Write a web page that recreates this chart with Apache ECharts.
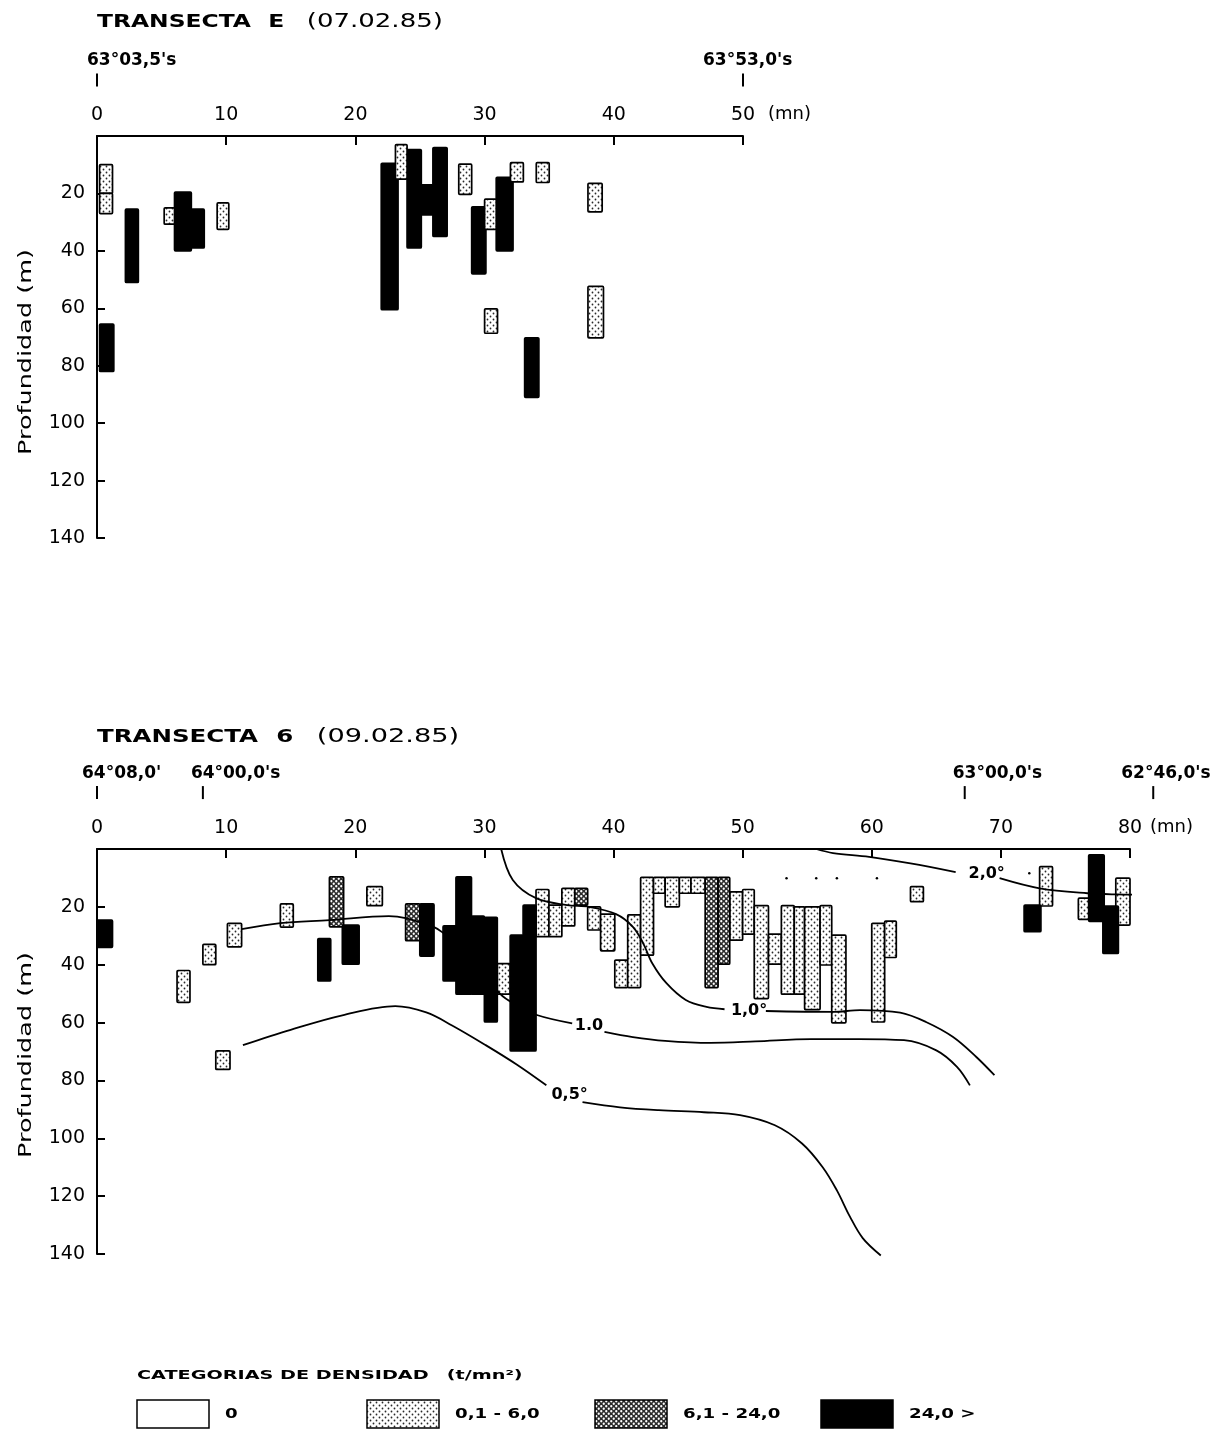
<!DOCTYPE html>
<html><head><meta charset="utf-8">
<script src="https://cdn.jsdelivr.net/npm/echarts/dist/echarts.min.js"></script>
<style>html,body{margin:0;padding:0;background:#fff}#c{width:1231px;height:1431px}</style>
</head><body><div id="c"></div>
<script>
// ---------- DATA ----------
// Depth axis ticks and distance axis ticks (mn)
const depthTicks = [0, 20, 40, 60, 80, 100, 120, 140];
const distE_max = 50, dist6_max = 80;

// Transecta E (07.02.85): rectangles [fromMn, toMn, topDepth, bottomDepth]
const transE_black = [
  [0.2, 1.3, 65.5, 82], [2.2, 3.2, 25.5, 51], [6.0, 7.3, 19.5, 40], [7.3, 8.3, 25.5, 39],
  [22.0, 23.3, 9.5, 60.5], [24.0, 25.1, 4.7, 39], [25.1, 26.0, 17, 27.5], [26.0, 27.1, 4, 35],
  [29.0, 30.1, 24.7, 48], [30.9, 32.2, 14.4, 40], [33.1, 34.2, 70.3, 91]
];
const transE_light = [
  [0.2, 1.2, 10, 20], [0.2, 1.2, 20, 27], [5.2, 6.0, 25, 30.7], [9.3, 10.2, 23.3, 32.5],
  [23.1, 24.0, 3, 15], [28.0, 29.0, 9.8, 20.3], [30.0, 30.9, 22, 32.5], [30.0, 31.0, 60.2, 68.7],
  [32.0, 33.0, 9.3, 16], [34.0, 35.0, 9.3, 16.2], [38.0, 39.1, 16.5, 26.4], [38.0, 39.2, 52.4, 70.3]
];
const latE_pos = [0, 50];
const latE_text = ["63°03,5's", "63°53,0's"];

// Transecta 6 (09.02.85)
const trans6_black = [
  [0, 1.2, 24.6, 34], [17.1, 18.1, 31, 45.6], [19.0, 20.3, 26.3, 39.8], [25.0, 26.1, 19, 37],
  [26.8, 27.9, 26.6, 45.6], [27.8, 29.0, 9.6, 50.2], [29.0, 30.0, 23.2, 50.2], [30.0, 31.0, 23.6, 59.8],
  [32.0, 33.0, 29.8, 69.8], [33.0, 34.0, 19.4, 69.8], [71.8, 73.1, 19.4, 28.6], [76.8, 78.0, 2, 25],
  [77.9, 79.1, 19.7, 36.1]
];
const trans6_dense = [
  [18.0, 19.1, 9.6, 26.9], [23.9, 25.0, 19, 31.7], [37.0, 38.0, 13.6, 19.4],
  [47.1, 48.1, 9.8, 47.9], [48.1, 49.0, 9.8, 39.8]
];
const trans6_light = [
  [6.2, 7.2, 42, 53], [8.2, 9.2, 33, 40], [10.1, 11.2, 25.7, 33.8], [14.2, 15.2, 19, 27],
  [20.9, 22.1, 13, 19.6], [9.2, 10.3, 69.8, 76.2], [31.0, 32.0, 39.6, 50.2], [34.0, 35.0, 14, 30.3],
  [35.0, 36.0, 19.4, 30.3], [36.0, 37.0, 13.6, 26.6], [38.0, 39.0, 20, 28], [39.0, 40.1, 22.5, 35.2],
  [40.1, 41.1, 38.4, 47.9], [41.1, 42.1, 22.8, 47.9], [42.1, 43.1, 9.8, 36.7], [43.1, 44.0, 9.8, 15.3],
  [44.0, 45.1, 9.8, 20], [45.1, 46.0, 9.8, 15.3], [46.0, 47.1, 9.8, 15.3], [49.0, 50.0, 14.8, 31.5],
  [50.0, 50.9, 14, 29.4], [50.9, 52.0, 19.6, 51.7], [52.0, 53.0, 29.4, 39.8], [53.0, 54.0, 19.6, 50.2],
  [54.0, 54.8, 20, 50.2], [54.8, 56.0, 20, 55.5], [56.0, 56.9, 19.6, 40.1], [56.9, 58.0, 29.8, 60.1],
  [60.0, 61.0, 25.7, 59.8], [61.0, 61.9, 24.9, 37.5], [63.0, 64.0, 13, 18.2], [73.0, 74.0, 6.1, 19.7],
  [76.0, 76.9, 17, 24.3], [78.9, 80.0, 10.1, 26.3]
];
const lat6_pos = [0, 8.2, 67.2, 81.8];
const lat6_text = ["64°08,0'", "64°00,0's", "63°00,0's", "62°46,0's"];

// Isotherms [mn, depth]
const iso05_a = [[11.3,67.8],[15,62.5],[19,57.5],[23.1,54.3],[25.5,56.5],[27.5,61],[30.1,67.8],[32.5,74.5],[34.8,81.7]];
const iso05_b = [[37.6,87.5],[40.5,89.3],[43.5,90.3],[47,91],[49.8,92],[52.5,95.5],[54.6,101.8],[56.2,110],[57.3,118],[58.3,127],[59.3,134.5],[60.7,140.5]];
const iso10low_a = [[11.2,27.7],[14.2,25.6],[18,24.6],[22.6,23.2],[23.9,23.9],[26.1,27],[26.8,29],[28.5,35],[30,42],[31.2,50],[32.5,54],[34,57.3],[36.8,60.3]];
const iso10low_b = [[39.3,63.2],[41.5,65],[44,66.3],[47.5,67],[51,66.5],[55.3,65.7],[59,65.7],[62.5,66.1],[65,69.6],[66.6,75.3],[67.6,81.7]];
const iso10up_a = [[31.3,0],[32.2,10.7],[34,17],[36.4,19.4],[38.1,20],[40.2,22.5],[41.5,26.9],[42.3,32.6],[43,39.5],[44.1,46.4],[45.6,52.2],[47.2,54.6],[48.6,55.4]];
const iso10up_b = [[51.8,56],[57,56.3],[59.1,55.7],[62.2,56.6],[64.2,59.8],[66.3,65],[68.1,71.9],[69.5,78.2]];
const iso20_a = [[55.7,0],[57,1.4],[59.8,2.7],[63,5],[66.5,8]];
const iso20_b = [[69.9,10.1],[73,13.6],[76.7,15.3],[79,15.7],[82,15.9]];
const isoDots = [[53.4,10.1],[55.7,10.1],[57.3,10.1],[60.4,10.1],[72.2,8.4]];
const isoLabelPos = [[38.1,61.2],[50.5,56],[36.6,85.1],[68.9,8.5]];
const isoLabelText = ['1.0', '1,0°', '0,5°', '2,0°'];

const legendText = ['0', '0,1 - 6,0', '6,1 - 24,0', '24,0 >'];

// ---------- PATTERNS ----------
function makePattern(bg, dot, size, r, pts) {
  const c = document.createElement('canvas'); c.width = c.height = size;
  const g = c.getContext('2d'); g.fillStyle = bg; g.fillRect(0, 0, size, size);
  g.fillStyle = dot;
  pts.forEach(p => { g.beginPath(); g.arc(p[0], p[1], r, 0, Math.PI * 2); g.fill(); });
  return c;
}
const lightFill = { image: makePattern('#ffffff', '#2a2a2a', 6, 0.9, [[1.5, 1.5], [4.5, 4.5]]), repeat: 'repeat' };
const denseFill = { image: makePattern('#2b2b2b', '#ffffff', 5, 1.15, [[1.25, 1.25], [3.75, 3.75]]), repeat: 'repeat' };
const FONT = '"DejaVu Sans", sans-serif';

function rectSeries(data, fill, gi, z) {
  return {
    type: 'custom', xAxisIndex: gi, yAxisIndex: gi, z: z, data: data, silent: true,
    encode: { x: [0, 1], y: [2, 3] },
    renderItem: function (p, api) {
      const a = api.coord([api.value(0), api.value(2)]);
      const b = api.coord([api.value(1), api.value(3)]);
      return {
        type: 'rect',
        shape: { x: Math.min(a[0], b[0]), y: Math.min(a[1], b[1]), width: Math.abs(b[0] - a[0]), height: Math.abs(b[1] - a[1]), r: 1 },
        style: { fill: fill, stroke: '#000', lineWidth: 1.7 }
      };
    }
  };
}
function isoLine(data) {
  return { type: 'line', xAxisIndex: 1, yAxisIndex: 1, data: data, symbol: 'none', smooth: 0.35, clip: false, silent: true, z: 3,
    lineStyle: { color: '#000', width: 1.8 } };
}
function latSeries(gi, pos, text, offsets) {
  return {
    type: 'scatter', xAxisIndex: gi, yAxisIndex: gi, clip: false, silent: true, symbol: 'rect', symbolSize: [2, 13],
    itemStyle: { color: '#000', opacity: 1 },
    data: pos.map((x, i) => ({ value: [x, -19.5], name: text[i], label: { offset: [offsets[i], 0] } })),
    label: { show: true, position: 'top', distance: 4, align: 'left', formatter: '{b}', color: '#000', fontSize: 17, fontWeight: 'bold', fontFamily: FONT }
  };
}
function xAx(gi, max) {
  return { gridIndex: gi, type: 'value', position: 'top', min: 0, max: max, interval: 10,
    axisLine: { show: true, lineStyle: { color: '#000', width: 2 } },
    axisTick: { show: true, inside: true, length: 9, lineStyle: { color: '#000', width: 2 } },
    axisLabel: { color: '#000', fontSize: 19, margin: 11, fontFamily: FONT },
    splitLine: { show: false } };
}
function yAx(gi) {
  return { gridIndex: gi, type: 'value', inverse: true, min: depthTicks[0], max: depthTicks[depthTicks.length - 1], interval: 20,
    axisLine: { show: true, lineStyle: { color: '#000', width: 2 } },
    axisTick: { show: true, inside: true, length: 8, lineStyle: { color: '#000', width: 2 } },
    axisLabel: { color: '#000', fontSize: 19, margin: 12, fontFamily: FONT, formatter: v => v === 0 ? '' : String(v) },
    splitLine: { show: false } };
}
function titleText(x, y, sx, a, b, c) {
  return { type: 'text', x: x, y: y, scaleX: sx, silent: true,
    style: { text: '{a|' + a + '} {b|' + b + '} {c|' + c + '}', verticalAlign: 'middle', textVerticalAlign: 'middle', fill: '#000',
      rich: { a: { font: 'bold 18px ' + FONT, fill: '#000' }, b: { font: 'bold 18px ' + FONT, fill: '#000', padding: [0, 10] },
        c: { font: '20px ' + FONT, fill: '#000', padding: [0, 0, 0, 4] } } } };
}
function yName(cy) {
  return { type: 'text', x: 27, y: cy, rotation: Math.PI / 2, scaleX: 1.5, silent: true,
    style: { text: 'Profundidad (m)', font: '17px ' + FONT, fill: '#000', align: 'center', textAlign: 'center', verticalAlign: 'middle', textVerticalAlign: 'middle' } };
}

const legendX = [137, 367, 595, 821];
const legendFills = ['#ffffff', lightFill, denseFill, '#000000'];
const legendGraphics = [];
legendX.forEach((x, i) => {
  legendGraphics.push({ type: 'rect', silent: true, shape: { x: x, y: 1400, width: 72, height: 28 }, style: { fill: legendFills[i], stroke: '#000', lineWidth: 1.5 } });
  legendGraphics.push({ type: 'text', silent: true, x: x + 88, y: 1414, scaleX: 1.3,
    style: { text: legendText[i], font: 'bold 14px ' + FONT, fill: '#000', verticalAlign: 'middle', textVerticalAlign: 'middle' } });
});

const option = {
  animation: false,
  backgroundColor: '#fff',
  grid: [
    { left: 97, top: 136, width: 646, height: 402 },
    { left: 97, top: 849, width: 1033, height: 405 }
  ],
  xAxis: [xAx(0, distE_max), xAx(1, dist6_max)],
  yAxis: [yAx(0), yAx(1)],
  graphic: [
    titleText(97, 22, 1.3, 'TRANSECTA', 'E', '(07.02.85)'),
    titleText(97, 737, 1.36, 'TRANSECTA', '6', '(09.02.85)'),
    yName(352), yName(1055),
    { type: 'text', x: 768, y: 114, silent: true, style: { text: '(mn)', font: '18px ' + FONT, fill: '#000', verticalAlign: 'middle', textVerticalAlign: 'middle' } },
    { type: 'text', x: 1150, y: 827, silent: true, style: { text: '(mn)', font: '18px ' + FONT, fill: '#000', verticalAlign: 'middle', textVerticalAlign: 'middle' } },
    { type: 'text', x: 137, y: 1376, scaleX: 1.6, silent: true,
      style: { text: '{a|CATEGORIAS DE DENSIDAD} {b|(t/mn²)}', verticalAlign: 'middle', textVerticalAlign: 'middle',
        rich: { a: { font: 'bold 12px ' + FONT, fill: '#000' }, b: { font: 'bold 12px ' + FONT, fill: '#000', padding: [0, 0, 0, 8] } } } }
  ].concat(legendGraphics),
  series: [
    // Transecta E
    rectSeries(transE_black, '#000', 0, 4),
    rectSeries(transE_light, lightFill, 0, 5),
    latSeries(0, latE_pos, latE_text, [-10, -40]),
    // Transecta 6
    rectSeries(trans6_light, lightFill, 1, 2),
    rectSeries(trans6_dense, denseFill, 1, 2),
    isoLine(iso05_a), isoLine(iso05_b), isoLine(iso10low_a), isoLine(iso10low_b),
    isoLine(iso10up_a), isoLine(iso10up_b), isoLine(iso20_a), isoLine(iso20_b),
    rectSeries(trans6_black, '#000', 1, 4),
    { type: 'scatter', xAxisIndex: 1, yAxisIndex: 1, silent: true, symbolSize: 2.5, itemStyle: { color: '#000', opacity: 1 }, data: isoDots, z: 3 },
    { type: 'scatter', xAxisIndex: 1, yAxisIndex: 1, silent: true, symbolSize: 0, z: 6, itemStyle: { opacity: 1 },
      data: isoLabelPos.map((p, i) => ({ value: p, name: isoLabelText[i] })),
      label: { show: true, position: 'inside', formatter: '{b}', color: '#000', fontSize: 16, fontWeight: 'bold', fontFamily: FONT } },
    latSeries(1, lat6_pos, lat6_text, [-15, -12, -12, -32])
  ]
};
const chart = echarts.init(document.getElementById('c'), null, { renderer: 'canvas' });
chart.setOption(option);
</script></body></html>
